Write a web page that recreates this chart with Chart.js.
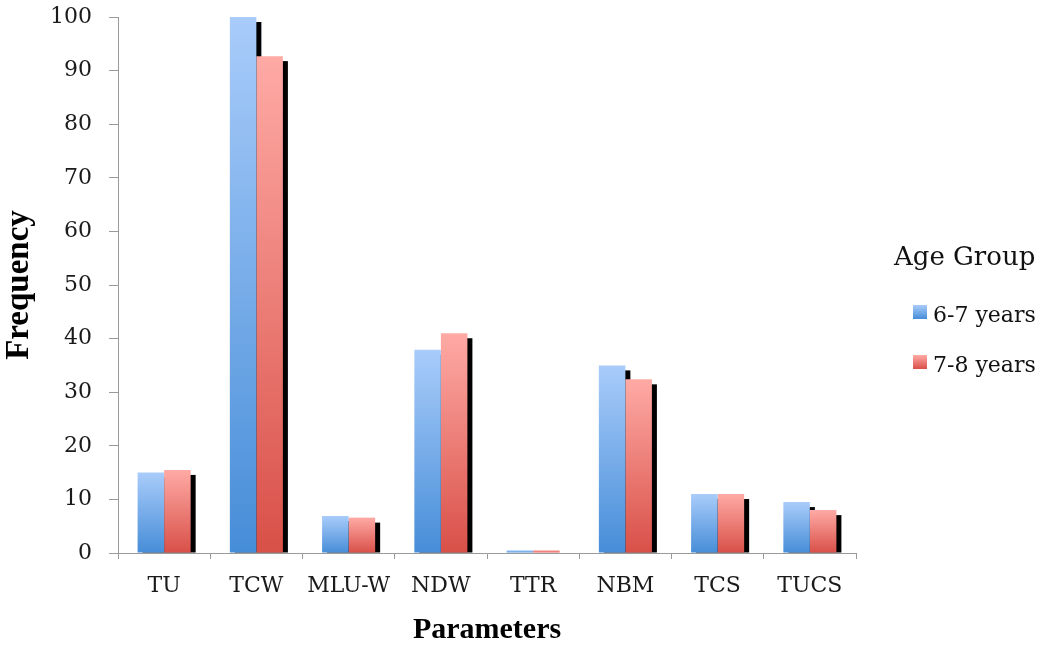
<!DOCTYPE html>
<html>
<head>
<meta charset="utf-8">
<title>Frequency by Parameter and Age Group</title>
<script src="https://cdn.jsdelivr.net/npm/chart.js@4"></script>
<style>
  html, body { margin: 0; padding: 0; background: #ffffff; }
  #wrap { width: 1043px; height: 648px; position: relative; }
</style>
</head>
<body>
<div id="wrap"><canvas id="chart"></canvas></div>
<script>
// Categories and series
const parameters = ['TU', 'TCW', 'MLU-W', 'NDW', 'TTR', 'NBM', 'TCS', 'TUCS'];
const years6to7 = [15, 100, 6.9, 37.9, 0.5, 35, 11, 9.5];
const years7to8 = [15.5, 92.7, 6.6, 41, 0.5, 32.4, 11, 8];
const seriesLabels = ['6-7 years', '7-8 years'];
const yTicks = { min: 0, max: 100, step: 10 };

const SERIF = "'DejaVu Serif', 'Liberation Serif', serif";
const TIMES = "'Liberation Serif', 'Times New Roman', serif";

// light-at-top, dark-at-bottom fills for each series
const palettes = [
  { top: '#a9ccfa', bottom: '#468dd8' },
  { top: '#ffaaa5', bottom: '#d85048' }
];

function barFill(index) {
  return function (c) {
    const chart = c.chart;
    const pal = palettes[index];
    if (!chart.chartArea || c.type !== 'data') return pal.bottom;
    const y = chart.scales.y;
    const top = y.getPixelForValue(c.raw);
    const bottom = y.getPixelForValue(0);
    if (bottom - top < 1) return pal.bottom;
    const g = chart.ctx.createLinearGradient(0, top, 0, bottom);
    g.addColorStop(0, pal.top);
    g.addColorStop(1, pal.bottom);
    return g;
  };
}

// hard black drop shadow: every bar's rectangle shifted down-right, painted
// before any bar so that neighbouring bars sit on top of it
const SHADOW = 5;
const barShadow = {
  id: 'barShadow',
  beforeDatasetsDraw(chart) {
    const { ctx, chartArea } = chart;
    ctx.save();
    ctx.beginPath();
    ctx.rect(chartArea.left, chartArea.top, chartArea.right - chartArea.left, chartArea.bottom - chartArea.top);
    ctx.clip();
    ctx.fillStyle = '#000000';
    chart.data.datasets.forEach((ds, i) => {
      const meta = chart.getDatasetMeta(i);
      meta.data.forEach(bar => {
        const p = bar.getProps(['x', 'y', 'base', 'width'], true);
        const left = p.x - p.width / 2 + SHADOW;
        const top = Math.min(p.y, p.base) + SHADOW;
        const h = Math.max(p.y, p.base) - top;
        if (h > 0) ctx.fillRect(left, top, p.width, h);
      });
    });
    ctx.restore();
  }
};

// legend block on the right side
const sideLegend = {
  id: 'sideLegend',
  afterDraw(chart) {
    const ctx = chart.ctx;
    ctx.save();
    ctx.fillStyle = '#111111';
    ctx.textAlign = 'left';
    ctx.textBaseline = 'alphabetic';
    ctx.font = '26px ' + SERIF;
    ctx.fillText('Age Group', 894, 265);
    chart.data.datasets.forEach((ds, i) => {
      const sy = 305 + i * 50;
      const pal = palettes[i];
      const g = ctx.createLinearGradient(0, sy, 0, sy + 14);
      g.addColorStop(0, pal.top);
      g.addColorStop(1, pal.bottom);
      ctx.fillStyle = g;
      ctx.fillRect(913, sy, 14, 14);
      ctx.fillStyle = '#111111';
      ctx.font = '22px ' + SERIF;
      ctx.fillText(ds.label, 933, sy + 17);
    });
    ctx.restore();
  }
};

const axisGray = '#9a9a9a';

new Chart(document.getElementById('chart'), {
  type: 'bar',
  data: {
    labels: parameters,
    datasets: [
      { label: seriesLabels[0], data: years6to7, backgroundColor: barFill(0), clip: 0 },
      { label: seriesLabels[1], data: years7to8, backgroundColor: barFill(1), clip: 0 }
    ]
  },
  options: {
    responsive: true,
    maintainAspectRatio: false,
    animation: false,
    devicePixelRatio: 1,
    datasets: { bar: { categoryPercentage: 0.575, barPercentage: 1.0, borderWidth: 0 } },
    layout: { padding: { top: 17, right: 187, bottom: 0, left: 0 } },
    plugins: {
      legend: { display: false },
      tooltip: { enabled: false }
    },
    scales: {
      x: {
        offset: true,
        grid: { display: true, offset: true, drawOnChartArea: false, drawTicks: true, tickLength: 6, color: axisGray },
        border: { display: true, color: axisGray, width: 1 },
        ticks: { color: '#1a1a1a', font: { family: SERIF, size: 22 }, padding: 14, maxRotation: 0 },
        title: {
          display: true, text: 'Parameters', color: '#000000',
          font: { family: TIMES, size: 30, weight: 'bold' }, padding: { top: 0, bottom: 0 }
        },
        afterFit(scale) { scale.height = 95; }
      },
      y: {
        min: yTicks.min,
        max: yTicks.max,
        grid: { display: true, drawOnChartArea: false, drawTicks: true, tickLength: 9, color: axisGray },
        border: { display: true, color: axisGray, width: 1 },
        ticks: { stepSize: yTicks.step, color: '#1a1a1a', font: { family: SERIF, size: 22 }, padding: 17 },
        title: {
          display: true, text: 'Frequency', color: '#000000',
          font: { family: TIMES, size: 33, weight: 'bold' }, padding: { top: 0, bottom: 0 }
        },
        afterFit(scale) {
          scale.width = 118;
          scale.paddingTop = 0;
          scale.paddingBottom = 0;
        }
      }
    }
  },
  plugins: [barShadow, sideLegend]
});
</script>
</body>
</html>
